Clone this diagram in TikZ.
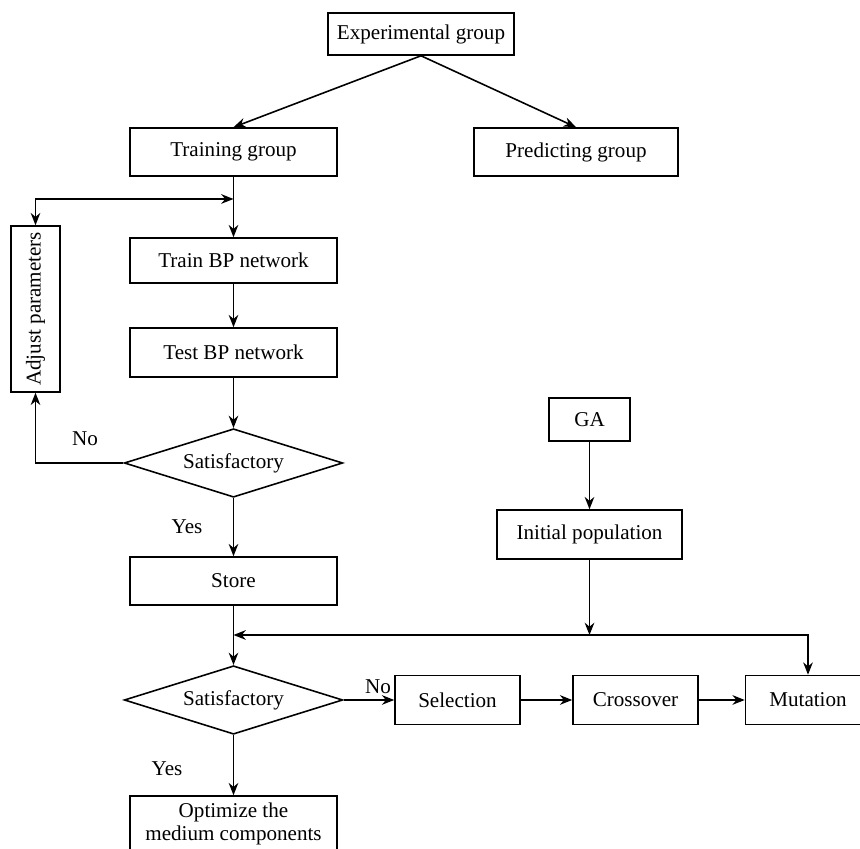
\documentclass[tikz,border=0pt]{standalone}
\usepackage{fontspec}
\setmainfont{Liberation Serif}
\usetikzlibrary{arrows.meta,positioning,shapes.geometric,calc}

\begin{document}
\begin{tikzpicture}[
    box/.style={draw, line width=0.9pt, minimum width=4.14cm, minimum height=0.96cm, inner sep=1pt, align=center, font=\fontsize{12}{13.5}\selectfont},
    decide/.style={draw, diamond, aspect=3.2, line width=0.9pt, inner sep=0pt, minimum width=4.37cm, minimum height=1.37cm, font=\fontsize{12}{13.5}\selectfont},
    lbl/.style={font=\fontsize{12}{13.5}\selectfont},
    link/.style={line width=0.9pt, -{Stealth[length=7pt,width=5.5pt]}},
    twoway/.style={line width=0.9pt, {Stealth[length=7pt,width=5.5pt]}-{Stealth[length=7pt,width=5.5pt]}}
  ]
  \useasboundingbox (0,0) rectangle (17.2,16.98);

  %--- data split ---
  \node[box, minimum width=3.72cm, minimum height=0.84cm] (expgroup) at (8.42,16.3) {Experimental group};
  \node[box] (traingroup) at (4.67,13.94) {Training group};
  \node[box, minimum width=4.08cm] (predgroup) at (11.52,13.94) {Predicting group};

  \draw[link] (expgroup.south) -- (traingroup.north);
  \draw[link] (expgroup.south) -- (predgroup.north);

  %--- BP network ---
  \node[box, minimum height=0.9cm] (trainbp) at (4.67,11.77) {Train BP network};
  \node[box, minimum height=0.98cm] (testbp) at (4.67,9.93) {Test BP network};
  \node[decide] (satone) at (4.67,7.72) {Satisfactory};
  \node[box] (store) at (4.67,5.36) {Store};

  % Adjust parameters
  \node[box, rotate=90, minimum width=3.32cm, minimum height=0.98cm] (adjust) at (0.71,10.8) {Adjust parameters};

  \coordinate (jtrain) at (4.67,13.0);
  \draw[link] (traingroup.south) -- (trainbp.north);
  \draw[twoway] (adjust.east) |- (jtrain);
  \draw[link] (trainbp.south) -- (testbp.north);
  \draw[link] (testbp.south) -- (satone.north);
  \draw[link] (satone.west) -| (adjust.west);
  \draw[link] (satone.south) -- (store.north);

  \node[lbl] (noone) at (1.7,8.2) {No};
  \node[lbl] (yesone) at (3.74,6.44) {Yes};

  %--- GA ---
  \node[box, minimum width=1.62cm, minimum height=0.86cm] (ga) at (11.79,8.59) {GA};
  \node[box, minimum width=3.7cm, minimum height=0.98cm] (initpop) at (11.79,6.29) {Initial population};

  \draw[link] (ga.south) -- (initpop.north);

  \node[decide] (sattwo) at (4.67,2.98) {Satisfactory};
  \node[box, minimum width=2.5cm, minimum height=0.98cm] (selection) at (9.15,2.98) {Selection};
  \node[box, minimum width=2.5cm, minimum height=0.98cm] (crossover) at (12.71,2.98) {Crossover};
  \node[box, minimum width=2.5cm, minimum height=0.98cm] (mutation) at (16.16,2.98) {Mutation};
  \node[box, minimum height=1.12cm] (optimize) at (4.67,0.5) {Optimize the\\medium components};

  \coordinate (jga) at (4.67,4.28);
  \draw[link] (store.south) -- (sattwo.north);
  \draw[link] (initpop.south) -- (initpop |- jga);
  \draw[twoway] (mutation.north) |- (jga);
  \draw[link] (sattwo.east) -- (selection.west);
  \draw[link] (selection.east) -- (crossover.west);
  \draw[link] (crossover.east) -- (mutation.west);
  \draw[link] (sattwo.south) -- (optimize.north);

  \node[lbl] (notwo) at (7.56,3.24) {No};
  \node[lbl] (yestwo) at (3.34,1.6) {Yes};
\end{tikzpicture}
\end{document}
